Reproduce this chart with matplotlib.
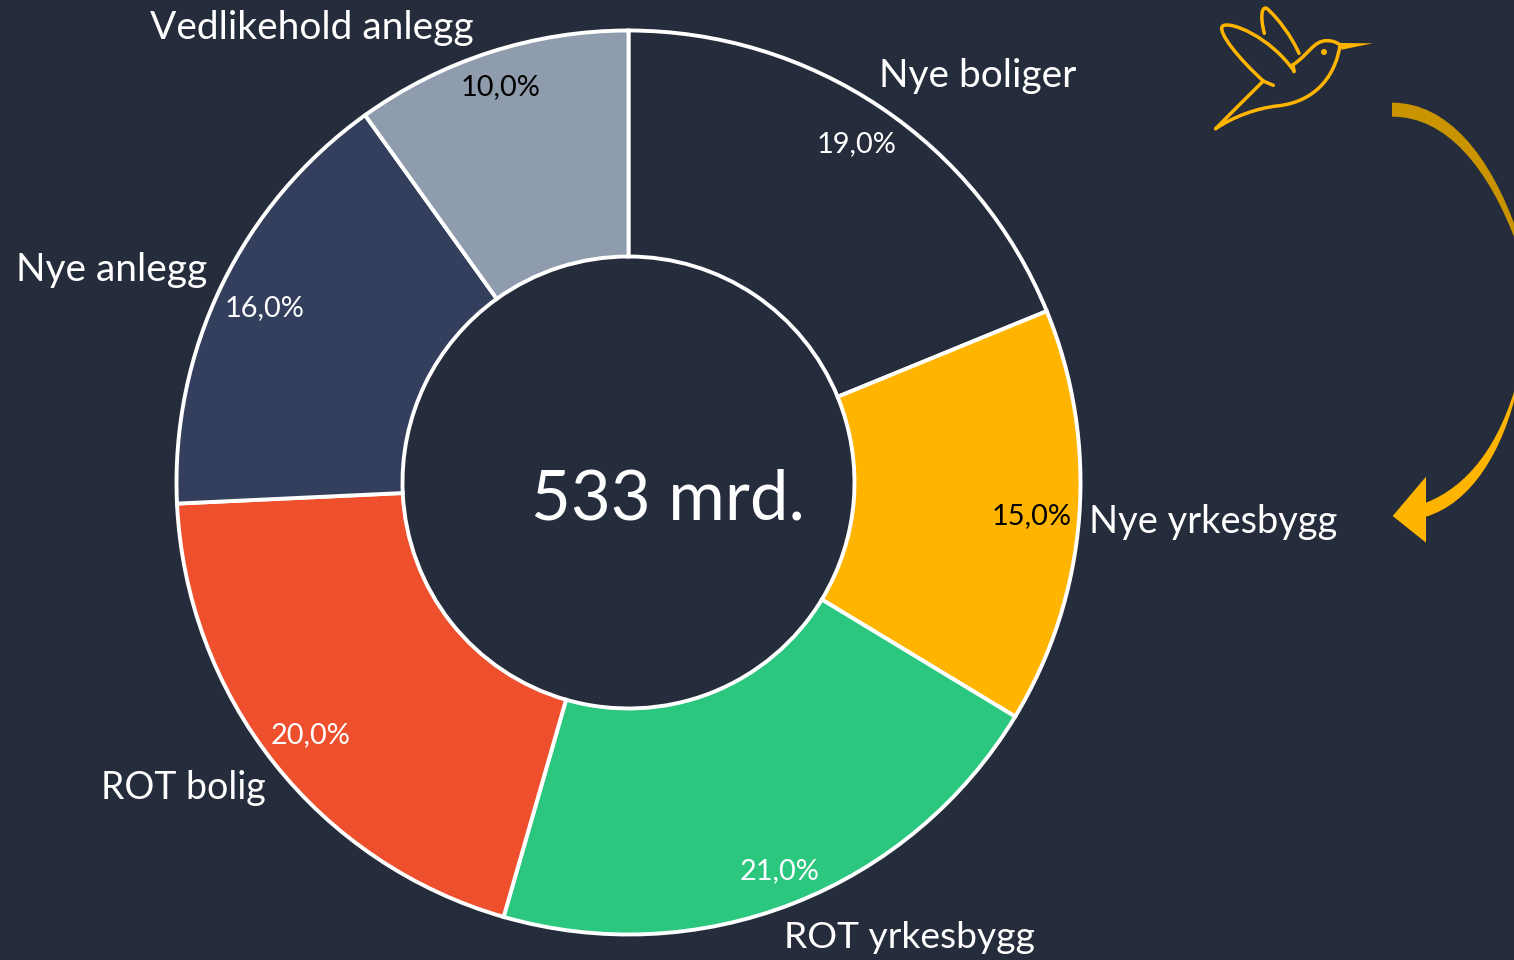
import matplotlib
matplotlib.use("Agg")
import matplotlib.pyplot as plt
from matplotlib.path import Path
from matplotlib.patches import PathPatch, Polygon

# Data
categories = ["Nye boliger", "Nye yrkesbygg", "ROT yrkesbygg", "ROT bolig", "Nye anlegg", "Vedlikehold anlegg"]
shares = [19.0, 15.0, 21.0, 20.0, 16.0, 10.0]
total_label = "533 mrd."

# Styling
BG = "#252C3B"
GOLD = "#FFB400"
slice_colors = [BG, GOLD, "#2BC77F", "#EE502D", "#333F5C", "#8F9CAD"]
pct_colors = ["white", "black", "white", "white", "white", "black"]
label_xy = [(978, 76), (1213, 522), (909, 938), (183, 788), (112, 270), (312, 28)]
label_sizes = [28, 27.4, 26.8, 27, 28, 28]
pct_xy = [(857, 144), (1032, 516), (780, 871), (311, 735), (265, 308), (501, 87)]

W, H = 1514, 960
plt.rcParams["font.family"] = ["Lato", "DejaVu Sans"]

fig = plt.figure(figsize=(W / 100, H / 100), dpi=100, facecolor=BG)
ax = fig.add_axes([0, 0, 1, 1])
ax.set_facecolor(BG)

# Donut
ax.pie(shares, colors=slice_colors, startangle=90, counterclock=False,
       center=(628.5, H - 482.5), radius=452, frame=True,
       wedgeprops=dict(width=226, edgecolor="white", linewidth=2.8))
ax.set_xlim(0, W)
ax.set_ylim(0, H)
ax.set_aspect("equal")
ax.axis("off")

for name, val, lxy, pxy, pc, fs in zip(categories, shares, label_xy, pct_xy, pct_colors, label_sizes):
    ax.text(lxy[0], H - lxy[1], name, color="white", fontsize=fs, ha="center", va="center")
    ax.text(pxy[0], H - pxy[1], f"{val:.1f}%".replace(".", ","), color=pc, fontsize=20.8,
            ha="center", va="center")

ax.text(668, H - 500, total_label, color="white", fontsize=49.5, ha="center", va="center")


# Hummingbird, coordinates in 3x crop units
def bird(p):
    return (1200 + p[0] / 3, H - p[1] / 3)


def curve(points, **kw):
    codes = [Path.MOVETO] + [Path.CURVE4] * (len(points) - 1)
    ax.add_patch(PathPatch(Path([bird(p) for p in points], codes), fill=False, edgecolor=GOLD,
                           linewidth=2.5, capstyle="round", joinstyle="round", **kw))


curve([(220, 256), (205, 250), (195, 245), (190, 243),
       (120, 180), (50, 95), (68, 78),
       (90, 62), (210, 110), (282, 213)])
curve([(193, 100), (180, 50), (185, 18), (200, 25),
       (235, 55), (275, 110), (297, 160)])
curve([(278, 195), (325, 165), (340, 122), (380, 122),
       (400, 122), (412, 128), (420, 135)])
curve([(420, 135), (410, 210), (360, 305), (230, 318),
       (170, 325), (100, 350), (47, 386)])
curve([(47, 386), (95, 338), (140, 292), (190, 243)])
curve([(278, 195), (280, 200), (282, 208), (282, 215)])
ax.add_patch(Polygon([bird((420, 129)), bird((518, 130)), bird((425, 149))], color=GOLD, lw=0))
ax.add_patch(plt.Circle(bird((372, 156)), 9 / 3, color=GOLD, lw=0))


# Curved arrow, runs off the right edge
def arrow(p):
    return (1370 + p[0] / 3, H - 90 - p[1] / 3)


def band(points, color):
    codes = [Path.MOVETO] + [Path.CURVE4] * 3 + [Path.LINETO] + [Path.CURVE4] * 3 + [Path.CLOSEPOLY]
    verts = [arrow(p) for p in points] + [arrow(points[0])]
    ax.add_patch(PathPatch(Path(verts, codes), facecolor=color, edgecolor="none"))


band([(66, 38), (230, 38), (360, 190), (445, 435),
      (445, 475), (355, 225), (225, 80), (66, 80)], "#C99400")
band([(168, 1280), (300, 1240), (400, 1090), (445, 880),
      (445, 860), (390, 1070), (290, 1190), (168, 1238)], GOLD)
ax.add_patch(Polygon([arrow((68, 1278)), arrow((168, 1160)), arrow((168, 1358))], color=GOLD, lw=0))

fig.savefig("out.png", dpi=100, facecolor=BG)
